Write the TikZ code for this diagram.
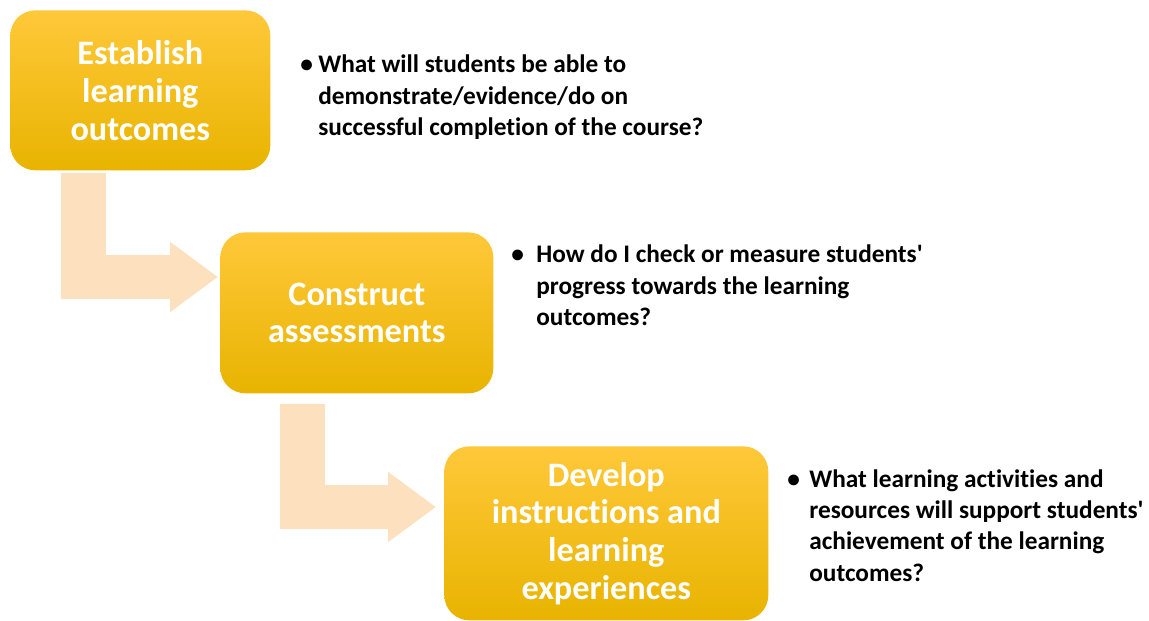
\documentclass[tikz,border=0pt]{standalone}
\usepackage{fontspec}
\setmainfont{Carlito}[RawFeature={-liga;-clig;-calt;-dlig}]
\usetikzlibrary{arrows.meta,calc}

\definecolor{stepTop}{RGB}{255,200,58}
\definecolor{stepBottom}{RGB}{232,180,0}
\definecolor{flowPeach}{RGB}{253,224,190}

\newcommand{\qitem}[1][0.36cm]{\makebox[#1][l]{\textbullet}}

\tikzset{
  stepbox/.style={rectangle, rounded corners=0.5cm, top color=stepTop,
    bottom color=stepBottom, text=white, align=center, anchor=north west,
    inner sep=0pt, font=\fontsize{19.5}{21.5}\selectfont\bfseries},
  question/.style={anchor=base west, inner sep=0pt,
    font=\fontsize{14.4}{17.9}\selectfont\bfseries},
  flow/.style={flowPeach, line width=0.9cm,
    -{Triangle[length=0.96cm,width=1.34cm]}}
}

\begin{document}
\begin{tikzpicture}[x=0.02cm, y=-0.02cm]
\useasboundingbox (0,0) rectangle (1149,621);

% the three steps
\node[stepbox, minimum width=5.2cm, minimum height=3.2cm] (establish)
  at (10,10) {Establish\\learning\\outcomes};
\node[stepbox, minimum width=5.46cm, minimum height=3.22cm] (construct)
  at (220,232) {Construct\\assessments};
\node[stepbox, minimum width=6.48cm, minimum height=3.48cm] (develop)
  at (444,446) {Develop\\instructions and\\learning\\experiences};

% bent arrows between the steps
\draw[flow] ($(establish.south west)+(73.5,2)$) |- ($(construct.north west)+(-2,45)$);
\draw[flow] ($(construct.south west)+(82,10)$) |- ($(develop.north west)+(-8,61)$);

% questions beside each step
\node[question] (q1) at (300,73) {\qitem\begin{tabular}[t]{@{}l@{}}
  What will students be able to\\
  demonstrate/evidence/do on\\
  successful completion of the course?\end{tabular}};
\node[question] (q2) at (511,263) {\qitem[0.5cm]\begin{tabular}[t]{@{}l@{}}
  How do I check or measure students\textquotesingle\\
  progress towards the learning\\
  outcomes?\end{tabular}};
\node[question] (q3) at (787,487) {\qitem[0.44cm]\begin{tabular}[t]{@{}l@{}}
  What learning activities and\\
  resources will support students\textquotesingle\\
  achievement of the learning\\
  outcomes?\end{tabular}};
\end{tikzpicture}
\end{document}
